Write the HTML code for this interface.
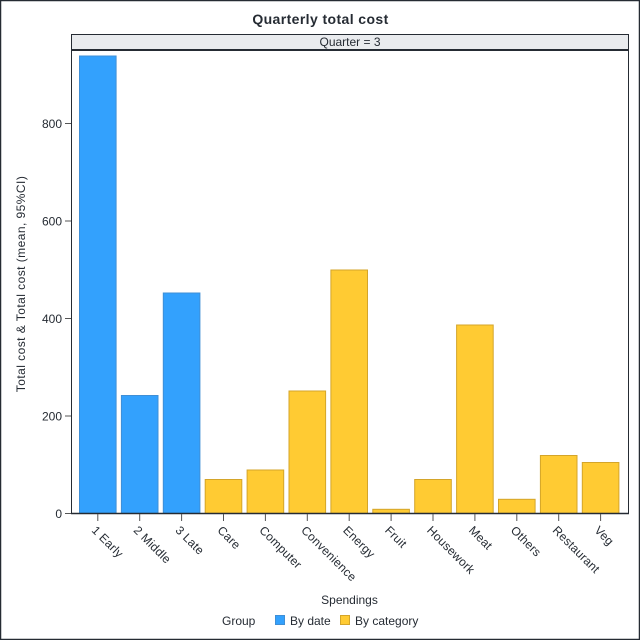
<!DOCTYPE html>
<html>
<head>
<meta charset="utf-8">
<style>
html,body{margin:0;padding:0;background:#fff;}
svg{display:block;font-family:"Liberation Sans",Arial,sans-serif;}
</style>
</head>
<body>
<svg width="640" height="640" viewBox="0 0 640 640" xmlns="http://www.w3.org/2000/svg">
  <rect x="0.5" y="0.5" width="639" height="639" fill="#fff" stroke="#252b33" stroke-width="1.5"/>
  <text x="320.5" y="24" text-anchor="middle" font-size="14" font-weight="bold" fill="#252b33" letter-spacing="0.4">Quarterly total cost</text>

  <!-- strip -->
  <rect x="71.5" y="34.5" width="557" height="15" fill="#e9ebee" stroke="#252b33" stroke-width="1"/>
  <text x="350" y="46" text-anchor="middle" font-size="12" fill="#252b33">Quarter = 3</text>
  <line x1="71" y1="50" x2="629" y2="50" stroke="#252b33" stroke-width="2"/>

  <!-- bars -->
  <g stroke-width="1">
    <rect x="79.5" y="56" width="36.6" height="457.5" fill="#33a1fd" stroke="#3f8fd6"/>
    <rect x="121.4" y="395.5" width="36.6" height="118" fill="#33a1fd" stroke="#3f8fd6"/>
    <rect x="163.3" y="293" width="36.6" height="220.5" fill="#33a1fd" stroke="#3f8fd6"/>
    <rect x="205.2" y="479.5" width="36.6" height="34" fill="#ffcb33" stroke="#d4a52a"/>
    <rect x="247.1" y="470" width="36.6" height="43.5" fill="#ffcb33" stroke="#d4a52a"/>
    <rect x="289.0" y="391" width="36.6" height="122.5" fill="#ffcb33" stroke="#d4a52a"/>
    <rect x="330.9" y="270" width="36.6" height="243.5" fill="#ffcb33" stroke="#d4a52a"/>
    <rect x="372.8" y="509.3" width="36.6" height="4.2" fill="#ffcb33" stroke="#d4a52a"/>
    <rect x="414.7" y="479.5" width="36.6" height="34" fill="#ffcb33" stroke="#d4a52a"/>
    <rect x="456.6" y="325" width="36.6" height="188.5" fill="#ffcb33" stroke="#d4a52a"/>
    <rect x="498.5" y="499.3" width="36.6" height="14.2" fill="#ffcb33" stroke="#d4a52a"/>
    <rect x="540.4" y="455.5" width="36.6" height="58" fill="#ffcb33" stroke="#d4a52a"/>
    <rect x="582.3" y="462.5" width="36.6" height="51" fill="#ffcb33" stroke="#d4a52a"/>
  </g>

  <!-- axes frame -->
  <line x1="71.5" y1="50" x2="71.5" y2="514" stroke="#252b33" stroke-width="1"/>
  <line x1="628.5" y1="50" x2="628.5" y2="514" stroke="#252b33" stroke-width="1"/>
  <line x1="71" y1="513.5" x2="629" y2="513.5" stroke="#252b33" stroke-width="1.5"/>

  <!-- y ticks -->
  <g stroke="#555" stroke-width="1">
    <line x1="65" y1="513.5" x2="71" y2="513.5"/>
    <line x1="65" y1="416" x2="71" y2="416"/>
    <line x1="65" y1="318.5" x2="71" y2="318.5"/>
    <line x1="65" y1="221" x2="71" y2="221"/>
    <line x1="65" y1="123.5" x2="71" y2="123.5"/>
  </g>
  <g font-size="12" fill="#252b33" text-anchor="end">
    <text x="62" y="518">0</text>
    <text x="62" y="420.5">200</text>
    <text x="62" y="323">400</text>
    <text x="62" y="225.5">600</text>
    <text x="62" y="128">800</text>
  </g>
  <text transform="translate(25,284) rotate(-90)" text-anchor="middle" font-size="12" fill="#252b33" letter-spacing="0.45">Total cost &amp; Total cost (mean, 95%CI)</text>

  <!-- x ticks -->
  <g stroke="#555" stroke-width="1">
    <line x1="97.8" y1="514" x2="97.8" y2="521"/>
    <line x1="139.7" y1="514" x2="139.7" y2="521"/>
    <line x1="181.6" y1="514" x2="181.6" y2="521"/>
    <line x1="223.5" y1="514" x2="223.5" y2="521"/>
    <line x1="265.4" y1="514" x2="265.4" y2="521"/>
    <line x1="307.3" y1="514" x2="307.3" y2="521"/>
    <line x1="349.2" y1="514" x2="349.2" y2="521"/>
    <line x1="391.1" y1="514" x2="391.1" y2="521"/>
    <line x1="433.0" y1="514" x2="433.0" y2="521"/>
    <line x1="474.9" y1="514" x2="474.9" y2="521"/>
    <line x1="516.8" y1="514" x2="516.8" y2="521"/>
    <line x1="558.7" y1="514" x2="558.7" y2="521"/>
    <line x1="600.6" y1="514" x2="600.6" y2="521"/>
  </g>
  <g font-size="12" fill="#252b33" letter-spacing="0.2">
    <text transform="translate(91,531) rotate(45)">1 Early</text>
    <text transform="translate(132.9,531) rotate(45)">2 Middle</text>
    <text transform="translate(174.8,531) rotate(45)">3 Late</text>
    <text transform="translate(216.7,531) rotate(45)">Care</text>
    <text transform="translate(258.6,531) rotate(45)">Computer</text>
    <text transform="translate(300.5,531) rotate(45)">Convenience</text>
    <text transform="translate(342.4,531) rotate(45)">Energy</text>
    <text transform="translate(384.3,531) rotate(45)">Fruit</text>
    <text transform="translate(426.2,531) rotate(45)">Housework</text>
    <text transform="translate(468.1,531) rotate(45)">Meat</text>
    <text transform="translate(510.0,531) rotate(45)">Others</text>
    <text transform="translate(551.9,531) rotate(45)">Restaurant</text>
    <text transform="translate(593.8,531) rotate(45)">Veg</text>
  </g>

  <text x="349.5" y="604" text-anchor="middle" font-size="12" fill="#252b33">Spendings</text>

  <!-- legend -->
  <text x="222" y="625" font-size="12" fill="#252b33">Group</text>
  <rect x="275.5" y="615.5" width="9" height="9" fill="#33a1fd" stroke="#3f8fd6"/>
  <text x="290" y="625" font-size="12" fill="#252b33">By date</text>
  <rect x="340.5" y="615.5" width="9" height="9" fill="#ffcb33" stroke="#d4a52a"/>
  <text x="355" y="625" font-size="12" fill="#252b33">By category</text>
</svg>
</body>
</html>
